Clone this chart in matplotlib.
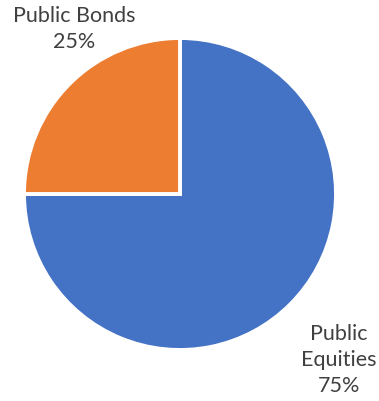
import matplotlib
matplotlib.use("Agg")
import matplotlib.pyplot as plt

categories = ["Public Equities", "Public Bonds"]
shares = [75, 25]
label_text = ["Public\nEquities\n75%", "Public Bonds\n25%"]
colors = ["#4472C4", "#ED7D31"]

W, H = 379, 401
fig = plt.figure(figsize=(W / 100, H / 100), dpi=100)
ax = fig.add_axes([0, 0, 1, 1])

ax.pie(shares, colors=colors, startangle=90, counterclock=False,
       center=(180, 207), radius=156, frame=True,
       wedgeprops=dict(edgecolor="white", linewidth=2.8))
ax.set_xlim(0, W)
ax.set_ylim(0, H)
ax.set_aspect("equal")
ax.axis("off")

font = dict(family=["Lato", "DejaVu Sans"], size=15.5, color="#404040",
            ha="center", va="center", linespacing=1.4)
ax.text(339, 401 - 360, label_text[0], **font)
ax.text(74, 401 - 29, label_text[1], **font)

fig.savefig("out.png", dpi=100)
